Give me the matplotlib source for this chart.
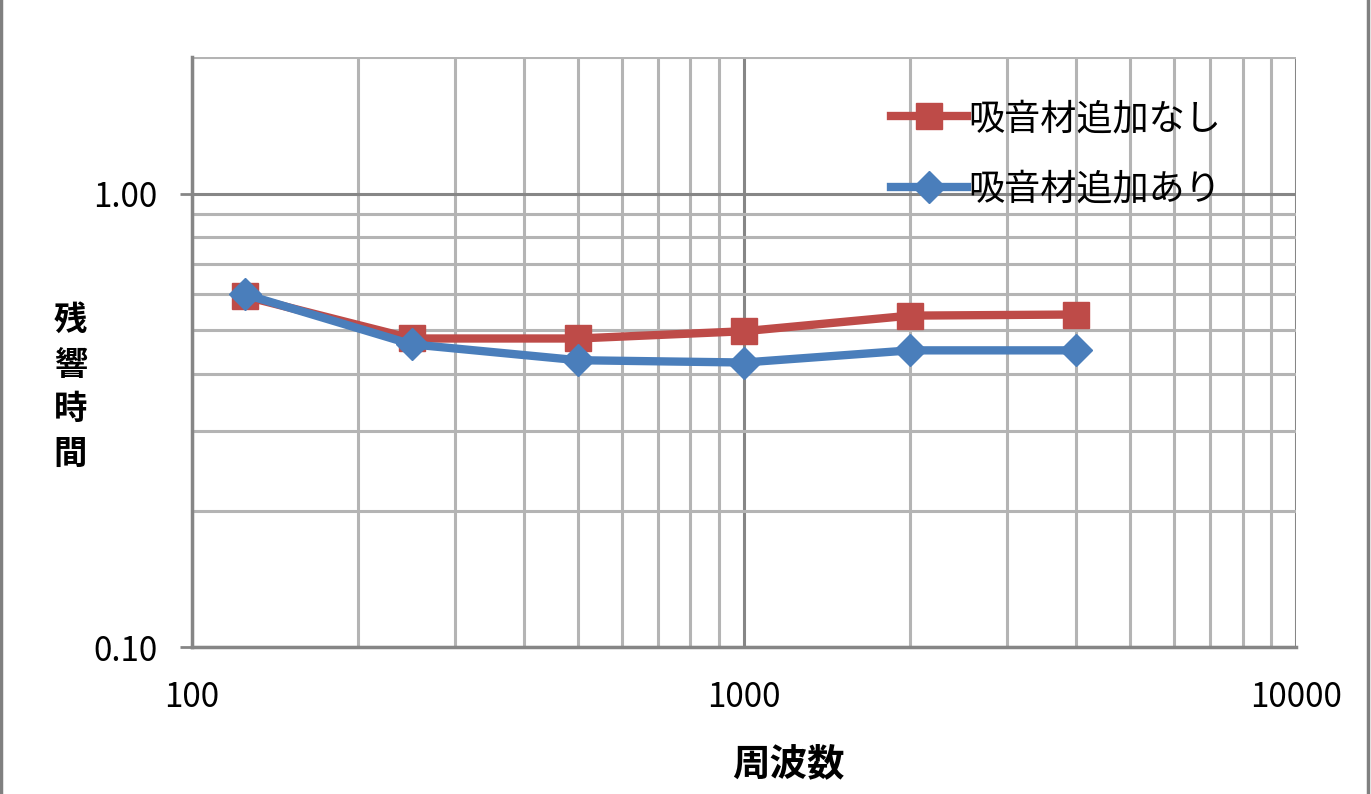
import matplotlib
matplotlib.use('Agg')
import matplotlib.pyplot as plt
from matplotlib.lines import Line2D
from matplotlib.ticker import LogLocator, FormatStrFormatter, NullFormatter

plt.rcParams['font.family'] = ['Noto Sans CJK JP', 'DejaVu Sans']

freq = [125, 250, 500, 1000, 2000, 4000]
rt_none = [0.593, 0.479, 0.479, 0.497, 0.538, 0.541]
rt_added = [0.599, 0.465, 0.429, 0.424, 0.451, 0.451]
labels = ['吸音材追加なし', '吸音材追加あり']

red = '#BE4B48'
blue = '#4A7EBB'

fig = plt.figure(figsize=(13.71, 7.94), dpi=100)
ax = fig.add_axes([0.1400, 0.1851, 0.8053, 0.7431])

ax.plot(freq, rt_none, color=red, lw=6, marker='s', ms=19, label=labels[0])
ax.plot(freq, rt_added, color=blue, lw=6, marker='D', ms=16, label=labels[1])

ax.set_xscale('log')
ax.set_yscale('log')
ax.set_xlim(100, 10000)
ax.set_ylim(0.1, 2.0)

ax.xaxis.set_major_locator(LogLocator(base=10))
ax.xaxis.set_minor_locator(LogLocator(base=10, subs=range(2, 10)))
ax.yaxis.set_major_locator(LogLocator(base=10))
ax.yaxis.set_minor_locator(LogLocator(base=10, subs=range(2, 10)))
ax.xaxis.set_major_formatter(FormatStrFormatter('%d'))
ax.yaxis.set_major_formatter(FormatStrFormatter('%.2f'))
ax.xaxis.set_minor_formatter(NullFormatter())
ax.yaxis.set_minor_formatter(NullFormatter())

ax.grid(True, which='major', color='#868686', lw=2.2)
ax.grid(True, which='minor', color='#b4b4b4', lw=2.2)
ax.set_axisbelow(True)

for s in ['top', 'right']:
    ax.spines[s].set_visible(False)
for s in ['left', 'bottom']:
    ax.spines[s].set_color('#868686')
    ax.spines[s].set_linewidth(2.5)

ax.tick_params(which='major', axis='y', length=9, width=2, color='#868686',
               labelsize=24, pad=16)
ax.tick_params(which='major', axis='x', length=0, labelsize=24, pad=24)
ax.tick_params(which='minor', length=0)

ax.set_xlabel('周波数', fontsize=27, fontweight='bold')
ax.xaxis.set_label_coords(0.54, -0.165)
ax.set_ylabel('残\n響\n時\n間', fontsize=24, fontweight='bold', rotation=0,
              linespacing=1.45, va='center', ha='center')
ax.yaxis.set_label_coords(-0.11, 0.44)

leg = ax.legend(loc='upper left', bbox_to_anchor=(0.62, 0.95), frameon=False,
                fontsize=26, handlelength=2.1, handletextpad=0.05,
                labelspacing=0.95, borderaxespad=0)

# outer border of the chart image
fig.add_artist(Line2D([0.001, 0.001], [0, 1], color='#808080', lw=2.5,
                      transform=fig.transFigure))
fig.add_artist(Line2D([0.998, 0.998], [0, 1], color='#808080', lw=2.5,
                      transform=fig.transFigure))

fig.savefig('out.png', dpi=100)
